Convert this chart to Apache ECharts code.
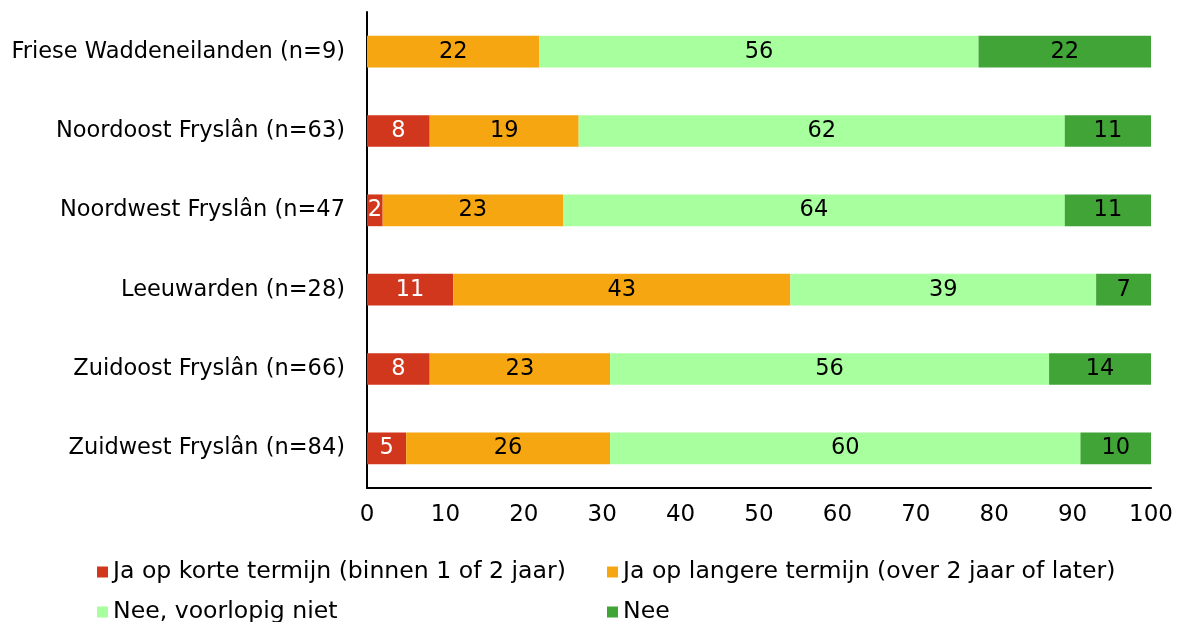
<!DOCTYPE html>
<html>
<head>
<meta charset="utf-8">
<script src="https://cdn.jsdelivr.net/npm/echarts@6/dist/echarts.min.js"></script>
<style>
  html, body { margin: 0; padding: 0; background: #fff; }
  #chart { width: 1180px; height: 622px; }
</style>
</head>
<body>
<div id="chart"></div>
<script>
// regio's, van boven naar beneden
const regions = [
  'Friese Waddeneilanden (n=9)',
  'Noordoost Fryslân (n=63)',
  'Noordwest Fryslân (n=47',
  'Leeuwarden (n=28)',
  'Zuidoost Fryslân (n=66)',
  'Zuidwest Fryslân (n=84)'
]
const seriesNames = [
  'Ja op korte termijn (binnen 1 of 2 jaar)',
  'Ja op langere termijn (over 2 jaar of later)',
  'Nee, voorlopig niet',
  'Nee'
]
const jaKort = [0, 8, 2, 11, 8, 5]
const jaLang = [22, 19, 23, 43, 23, 26]
const neeVoorlopig = [56, 62, 64, 39, 56, 60]
const nee = [22, 11, 11, 7, 14, 10]
const xTicks = [0, 10, 20, 30, 40, 50, 60, 70, 80, 90, 100]

const colors = ['#d1371c', '#f6a610', '#a8ff9e', '#41a437']
const labelColors = ['#ffffff', '#000000', '#000000', '#000000']
const font = 'DejaVu Sans'
const values = [jaKort, jaLang, neeVoorlopig, nee]

// legenda in twee kolommen
const legendPos = [[97, 560], [607, 560], [97, 600], [607, 600]]

let mychart = echarts.init(document.getElementById('chart'))
mychart.setOption({
  animation: false,
  textStyle: { fontFamily: font },
  grid: { left: 367, right: 29, top: 12, bottom: 134 },
  legend: seriesNames.map((name, i) => ({
    data: [name],
    left: legendPos[i][0],
    top: legendPos[i][1],
    padding: 0,
    itemWidth: 11,
    itemHeight: 11,
    itemGap: 5,
    icon: 'rect',
    textStyle: { fontSize: 23.6, lineHeight: 24, color: '#000', fontFamily: font }
  })),
  xAxis: {
    type: 'value',
    min: 0,
    max: 100,
    interval: 10,
    axisLine: { show: true, lineStyle: { color: '#000', width: 2 } },
    axisTick: { show: false },
    splitLine: { show: false },
    axisLabel: {
      fontSize: 23,
      color: '#000',
      margin: 16,
      fontFamily: font,
      formatter: v => (xTicks.includes(v) ? String(v) : '')
    }
  },
  yAxis: {
    type: 'category',
    data: regions,
    inverse: true,
    axisLine: { show: true, lineStyle: { color: '#000', width: 2 } },
    axisTick: { show: false },
    axisLabel: { fontSize: 22.5, color: '#000', margin: 22, fontFamily: font }
  },
  series: seriesNames.map((name, i) => ({
    name: name,
    type: 'bar',
    stack: 'total',
    barWidth: '40%',
    itemStyle: { color: colors[i] },
    label: {
      show: true,
      position: 'inside',
      fontSize: 22.5,
      fontFamily: font,
      color: labelColors[i],
      formatter: p => (p.value ? String(p.value) : '')
    },
    data: values[i]
  }))
})
</script>
</body>
</html>
